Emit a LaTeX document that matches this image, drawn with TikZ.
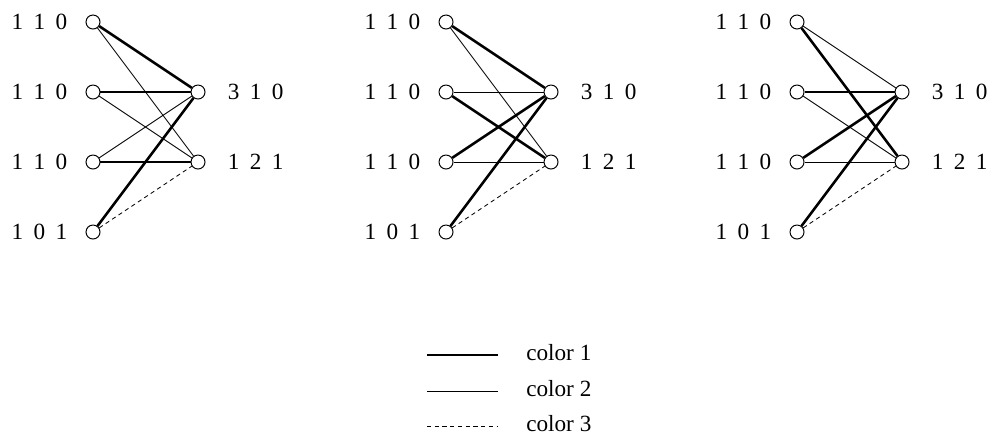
\documentclass[tikz,border=0pt]{standalone}
\usepackage{fontspec}
\setmainfont{Liberation Serif}
\usetikzlibrary{positioning}
\newcommand{\trip}[3]{#1\hspace{0.45em}#2\hspace{0.45em}#3}

\begin{document}
\begin{tikzpicture}[x=0.025cm, y=-0.025cm,
    vert/.style={circle, draw, line width=0.7pt, inner sep=0pt, minimum size=0.35cm},
    lab/.style={font=\fontsize{16.5}{19}\selectfont, inner sep=0pt},
    cone/.style={line width=1.8pt},
    ctwo/.style={line width=0.6pt},
    cthree/.style={line width=0.6pt, dash pattern=on 3pt off 2.5pt}]
    \useasboundingbox (0,0) rectangle (991,435);
    % the three colourings of the same graph
    \foreach \g/\x in {1/93, 2/446, 3/797} {
        \node[vert] (g\g l1) at (\x,22) {};
        \node[vert] (g\g l2) at (\x,92) {};
        \node[vert] (g\g l3) at (\x,162) {};
        \node[vert] (g\g l4) at (\x,232) {};
        \node[vert] (g\g r1) at (\x+105,92) {};
        \node[vert] (g\g r2) at (\x+105,162) {};
        \node[lab, left=0.45cm of g\g l1] (g\g t1) {\trip110};
        \node[lab, left=0.45cm of g\g l2] (g\g t2) {\trip110};
        \node[lab, left=0.45cm of g\g l3] (g\g t3) {\trip110};
        \node[lab, left=0.45cm of g\g l4] (g\g t4) {\trip101};
        \node[lab, right=0.55cm of g\g r1] (g\g u1) {\trip310};
        \node[lab, right=0.55cm of g\g r2] (g\g u2) {\trip121};
    }
    \foreach \l/\r/\s in {1/1/cone, 1/2/ctwo, 2/1/cone, 2/2/ctwo, 3/1/ctwo, 3/2/cone, 4/1/cone, 4/2/cthree}
        \draw[\s] (g1l\l) -- (g1r\r);
    \foreach \l/\r/\s in {1/1/cone, 1/2/ctwo, 2/1/ctwo, 2/2/cone, 3/1/cone, 3/2/ctwo, 4/1/cone, 4/2/cthree}
        \draw[\s] (g2l\l) -- (g2r\r);
    \foreach \l/\r/\s in {1/1/ctwo, 1/2/cone, 2/1/cone, 2/2/ctwo, 3/1/cone, 3/2/ctwo, 4/1/cone, 4/2/cthree}
        \draw[\s] (g3l\l) -- (g3r\r);
    % legend
    \foreach \i/\y/\s in {1/355/cone, 2/391/ctwo, 3/426/cthree} {
        \coordinate (k\i a) at (427,\y);
        \coordinate (k\i b) at (498,\y);
        \draw[\s] (k\i a) -- (k\i b);
        \node[lab, anchor=base west] (k\i t) at (526,\y+5) {color \i};
    }
\end{tikzpicture}
\end{document}
